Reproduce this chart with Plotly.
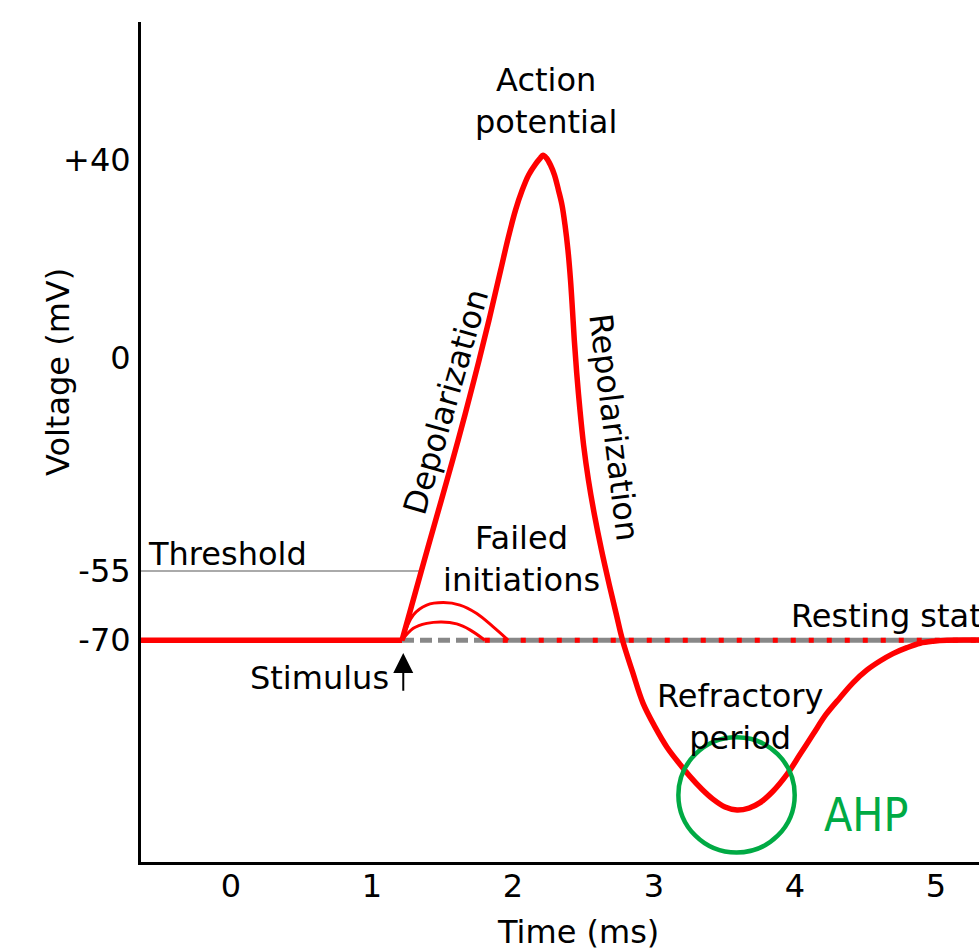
import plotly.graph_objects as go

# ---------------- data (time in ms, voltage in the chart's display units) ----------------
TIME_TICKS = [0, 1, 2, 3, 4, 5]
TIME_TICK_LABELS = ["0", "1", "2", "3", "4", "5"]
VOLT_TICKS = [40, 0, -43, -57]
VOLT_TICK_LABELS = ["+40", "0", "-55", "-70"]

# resting baseline before the stimulus
BASE_T = [-0.7, 1.213]
BASE_V = [-57, -57]

# threshold level
THRESH_T = [-0.7, 1.34]
THRESH_V = [-43, -43]

# action potential
AP_T = [1.213, 1.352, 1.492, 1.611, 1.724, 1.830, 1.913, 1.967, 2.018, 2.065,
        2.111, 2.160, 2.194, 2.213, 2.238, 2.266, 2.294, 2.323, 2.348, 2.369,
        2.390, 2.408, 2.422, 2.435, 2.452, 2.475, 2.501, 2.535, 2.578, 2.628,
        2.684, 2.734, 2.777, 2.848, 2.922, 3.007, 3.092, 3.177, 3.255, 3.340,
        3.418, 3.504, 3.589, 3.674, 3.752, 3.844, 3.943, 4.035, 4.128, 4.220,
        4.319, 4.411, 4.511, 4.603, 4.695, 4.794, 4.887, 4.979, 5.078, 5.400]
AP_V = [-57.0, -42.8, -28.7, -16.6, -4.4, 7.7, 17.8, 24.4, 29.9, 33.9,
        37.0, 39.2, 40.4, 41.0, 40.4, 39.0, 37.0, 33.9, 30.9, 26.9,
        21.8, 15.8, 9.7, 3.6, -3.0, -10.5, -17.6, -24.6, -31.7, -38.8,
        -45.9, -51.9, -57.0, -63.4, -69.7, -74.5, -78.6, -81.8, -84.5, -87.1,
        -89.1, -90.7, -91.3, -90.9, -89.8, -87.5, -84.1, -80.1, -76.0, -72.0,
        -68.6, -65.6, -63.0, -61.2, -59.7, -58.5, -57.6, -57.2, -57.0, -57.0]

# failed initiations
FAIL_HI_T = [1.213, 1.293, 1.388, 1.506, 1.624, 1.743, 1.860, 1.967]
FAIL_HI_V = [-57, -51.9, -49.9, -49.4, -49.9, -51.6, -54.3, -57]
FAIL_LO_T = [1.213, 1.293, 1.388, 1.494, 1.601, 1.695, 1.801]
FAIL_LO_V = [-57, -54.6, -53.6, -53.3, -53.7, -54.9, -57]

# resting-state reference line after the stimulus
REST_DASH_T = [1.213, 1.80]
REST_DASH_V = [-57, -57]
REST_SOLID_T = [1.80, 5.40]
REST_SOLID_V = [-57, -57]

# stimulus arrow (tail, tip)
STIM_T = 1.222
STIM_V_TAIL = -67.5
STIM_V_TIP = -59.6

# AHP marker circle (data bounds)
AHP_T = [3.173, 3.998]
AHP_V = [-99.9, -76.6]

RED = "#ff0000"
GREY = "#888888"
GREEN = "#00aa44"
FONT = "DejaVu Sans"
FS = 32

# plot-area geometry (pixels) used to place text labels
W, H = 979, 952
L, R, T, B = 141, 0, 22, 90


def px(xp, yp):
    return (xp - L) / (W - L - R), (H - B - yp) / (H - T - B)


fig = go.Figure()

fig.add_trace(go.Scatter(x=THRESH_T, y=THRESH_V, mode="lines",
                         line=dict(color="#aaaaaa", width=2), hoverinfo="skip"))
fig.add_trace(go.Scatter(x=REST_DASH_T, y=REST_DASH_V, mode="lines",
                         line=dict(color=GREY, width=5, dash="12px,6px"), hoverinfo="skip"))
fig.add_trace(go.Scatter(x=REST_SOLID_T, y=REST_SOLID_V, mode="lines",
                         line=dict(color=GREY, width=5), hoverinfo="skip"))
fig.add_trace(go.Scatter(x=REST_SOLID_T, y=REST_SOLID_V, mode="lines",
                         line=dict(color=RED, width=5, dash="5px,13px"), hoverinfo="skip"))
fig.add_trace(go.Scatter(x=FAIL_HI_T, y=FAIL_HI_V, mode="lines",
                         line=dict(color=RED, width=3, shape="spline"), hoverinfo="skip"))
fig.add_trace(go.Scatter(x=FAIL_LO_T, y=FAIL_LO_V, mode="lines",
                         line=dict(color=RED, width=3, shape="spline"), hoverinfo="skip"))
fig.add_trace(go.Scatter(x=BASE_T, y=BASE_V, mode="lines",
                         line=dict(color=RED, width=5.5), hoverinfo="skip"))
fig.add_trace(go.Scatter(x=AP_T, y=AP_V, mode="lines",
                         line=dict(color=RED, width=5.5, shape="spline", smoothing=1),
                         hoverinfo="skip"))

fig.add_shape(type="circle", xref="x", yref="y",
              x0=AHP_T[0], x1=AHP_T[1], y0=AHP_V[0], y1=AHP_V[1],
              line=dict(color=GREEN, width=4.5))

ann = []


def label(text, xp, yp, xanchor="center", angle=0, size=FS, color="black", family=FONT):
    x, y = px(xp, yp)
    ann.append(dict(text=text, x=x, y=y, xref="paper", yref="paper",
                    xanchor=xanchor, yanchor="middle", showarrow=False,
                    textangle=angle, font=dict(family=family, size=size, color=color)))


label("Action<br>potential", 546, 101)
label("Depolarization", 446, 402, angle=-74)
label("Repolarization", 614, 427, angle=83)
label("Threshold", 146, 554, xanchor="left")
label("Failed<br>initiations", 521, 559)
label("Resting state", 789, 616, xanchor="left")
label("Refractory<br>period", 740, 717)
label("Stimulus", 391, 678, xanchor="right")
label("Voltage (mV)", 58, 372, angle=-90)
label("Time (ms)", 578, 932)
label("AHP", 822, 815, xanchor="left", size=46, color=GREEN,
      family="Liberation Sans Narrow, DejaVu Sans Condensed, sans-serif")

ann.append(dict(x=STIM_T, y=STIM_V_TIP, ax=STIM_T, ay=STIM_V_TAIL,
                xref="x", yref="y", axref="x", ayref="y", text="",
                showarrow=True, arrowhead=2, arrowsize=2, arrowwidth=2,
                arrowcolor="black", standoff=0))

fig.update_layout(
    width=W, height=H,
    margin=dict(l=L, r=R, t=T, b=B),
    plot_bgcolor="white", paper_bgcolor="white",
    showlegend=False,
    font=dict(family=FONT, size=FS, color="black"),
    annotations=ann,
    xaxis=dict(range=[-0.638, 5.305], tickvals=TIME_TICKS, ticktext=TIME_TICK_LABELS,
               showline=True, linecolor="black", linewidth=3, showgrid=False,
               zeroline=False, ticks="", ticklabelstandoff=-6,
               tickfont=dict(family=FONT, size=FS, color="black"), fixedrange=True),
    yaxis=dict(range=[-101.8, 67.9], tickvals=VOLT_TICKS, ticktext=VOLT_TICK_LABELS,
               showline=True, linecolor="black", linewidth=3, showgrid=False,
               zeroline=False, ticks="", ticklabelstandoff=1,
               tickfont=dict(family=FONT, size=FS, color="black"), fixedrange=True),
)

fig.write_html("out.html", config={"displayModeBar": False},
               post_script="document.body.style.margin='0';document.body.style.overflow='hidden';")
